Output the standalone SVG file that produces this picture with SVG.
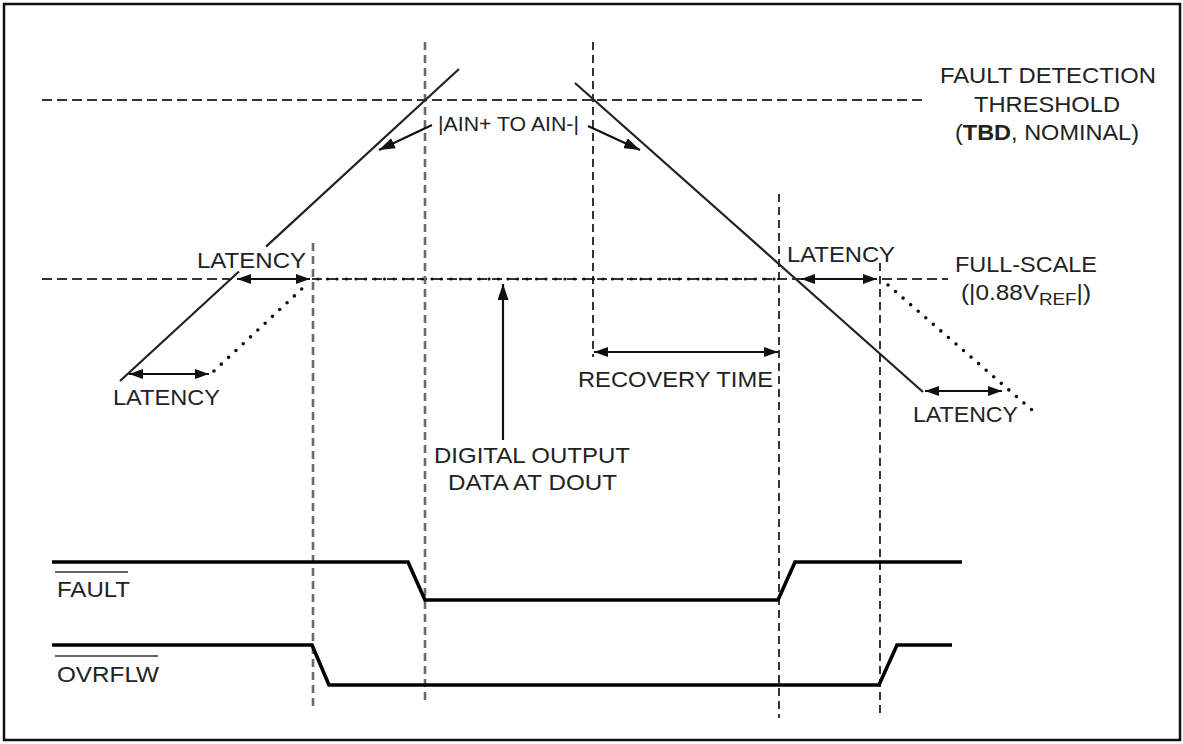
<svg xmlns="http://www.w3.org/2000/svg" width="1183" height="744" viewBox="0 0 1183 744">
<defs>
<style>
.t{font-family:"Liberation Sans",Arial,sans-serif;font-size:22px;fill:#222}
.b{font-weight:bold}
.g{fill:none;stroke:#6a6a6a;stroke-width:2.6;stroke-dasharray:8 5}
.k{fill:none;stroke:#111;stroke-width:1.7;stroke-dasharray:8 5}
.h{fill:none;stroke:#333;stroke-width:2;stroke-dasharray:10 5}
.w{fill:none;stroke:#222;stroke-width:2.2}
.d{fill:none;stroke:#111;stroke-width:3.6;stroke-linecap:round;stroke-dasharray:0 10}
.s{fill:none;stroke:#000;stroke-width:3.6;stroke-linejoin:miter}
.a{fill:none;stroke:#111;stroke-width:2.2}
.o{stroke:#333;stroke-width:1.6}
</style>
<marker id="ah" viewBox="0 0 14 10" refX="14" refY="5" markerWidth="14" markerHeight="10" markerUnits="userSpaceOnUse" orient="auto-start-reverse">
<path d="M0,0 L14,5 L0,10 z" fill="#111"/>
</marker>
<marker id="ahb" viewBox="0 0 16 11" refX="16" refY="5.5" markerWidth="16" markerHeight="11" markerUnits="userSpaceOnUse" orient="auto">
<path d="M0,0 L16,5.5 L0,11 z" fill="#111"/>
</marker>
</defs>
<rect x="0" y="0" width="1183" height="744" fill="#fff"/>
<rect id="frame" x="4" y="4" width="1176" height="736" fill="none" stroke="#111" stroke-width="2.5"/>

<g id="guides">
<line class="h" x1="42" y1="100" x2="926" y2="100"/>
<line class="h" x1="42" y1="279" x2="948" y2="279"/>
<line class="g" x1="425" y1="42" x2="425" y2="703"/>
<line class="g" x1="313" y1="243" x2="313" y2="707"/>
<line class="k" x1="593" y1="42" x2="593" y2="357"/>
<line class="k" x1="779" y1="194" x2="779" y2="718"/>
<line class="k" x1="880" y1="263" x2="880" y2="713"/>
</g>

<g id="waveforms">
<path class="w" d="M120,381 L239,271.5 M266,246.6 L459,69"/>
<path class="w" d="M575,83 L923,392"/>
<path class="d" d="M214,371 L306,285"/>
<line x1="318" y1="279" x2="779" y2="279" stroke="#111" stroke-width="3.2" stroke-linecap="round" stroke-dasharray="0 9.5"/>
<path class="d" d="M888,285 L1032,410"/>
</g>

<g id="fault-signal">
<path class="s" d="M52,562 H408 L425,600 H778 L795,562 H962"/>
<line class="o" x1="55" y1="572" x2="128" y2="572"/>
<text class="t" x="57" y="597" textLength="73" lengthAdjust="spacingAndGlyphs">FAULT</text>
</g>

<g id="ovrflw-signal">
<path class="s" d="M52,645 H312 L329,685 H879 L897,645 H952"/>
<line class="o" x1="55" y1="656" x2="158" y2="656"/>
<text class="t" x="57" y="682" textLength="102" lengthAdjust="spacingAndGlyphs">OVRFLW</text>
</g>

<g id="connectors">
<line class="a" x1="237" y1="279" x2="310" y2="279" marker-start="url(#ah)" marker-end="url(#ah)"/>
<line class="a" x1="129" y1="374" x2="209" y2="374" marker-start="url(#ah)" marker-end="url(#ah)"/>
<line class="a" x1="801" y1="279" x2="877" y2="279" marker-start="url(#ah)" marker-end="url(#ah)"/>
<line class="a" x1="925" y1="391" x2="1002" y2="391" marker-start="url(#ah)" marker-end="url(#ah)"/>
<line class="a" x1="594" y1="352" x2="778" y2="352" marker-start="url(#ah)" marker-end="url(#ah)"/>
<line class="a" x1="503" y1="440" x2="503" y2="284" marker-end="url(#ahb)"/>
<line class="a" x1="432" y1="125" x2="379" y2="150" marker-end="url(#ahb)"/>
<line class="a" x1="588" y1="126" x2="640" y2="150" marker-end="url(#ahb)"/>
</g>

<g id="labels">
<text class="t" x="940" y="83" textLength="216" lengthAdjust="spacingAndGlyphs">FAULT DETECTION</text>
<text class="t" x="974" y="112" textLength="146" lengthAdjust="spacingAndGlyphs">THRESHOLD</text>
<text class="t" x="955" y="140" textLength="184" lengthAdjust="spacingAndGlyphs">(<tspan class="b">TBD</tspan>, NOMINAL)</text>
<text class="t" x="438" y="131" style="font-size:20px" textLength="141" lengthAdjust="spacingAndGlyphs">|AIN+ TO AIN-|</text>
<text class="t" x="197" y="268" textLength="109" lengthAdjust="spacingAndGlyphs">LATENCY</text>
<text class="t" x="113" y="405" textLength="107" lengthAdjust="spacingAndGlyphs">LATENCY</text>
<text class="t" x="787" y="262" textLength="108" lengthAdjust="spacingAndGlyphs">LATENCY</text>
<text class="t" x="913" y="422" textLength="105" lengthAdjust="spacingAndGlyphs">LATENCY</text>
<text class="t" x="955" y="272" textLength="142" lengthAdjust="spacingAndGlyphs">FULL-SCALE</text>
<text class="t" x="961" y="300" textLength="130" lengthAdjust="spacingAndGlyphs">(|0.88V<tspan dy="5" style="font-size:17px">REF</tspan><tspan dy="-5">|)</tspan></text>
<text class="t" x="578" y="387" textLength="195" lengthAdjust="spacingAndGlyphs">RECOVERY TIME</text>
<text class="t" x="434" y="463" textLength="196" lengthAdjust="spacingAndGlyphs">DIGITAL OUTPUT</text>
<text class="t" x="448" y="490" textLength="169" lengthAdjust="spacingAndGlyphs">DATA AT DOUT</text>
</g>
</svg>
